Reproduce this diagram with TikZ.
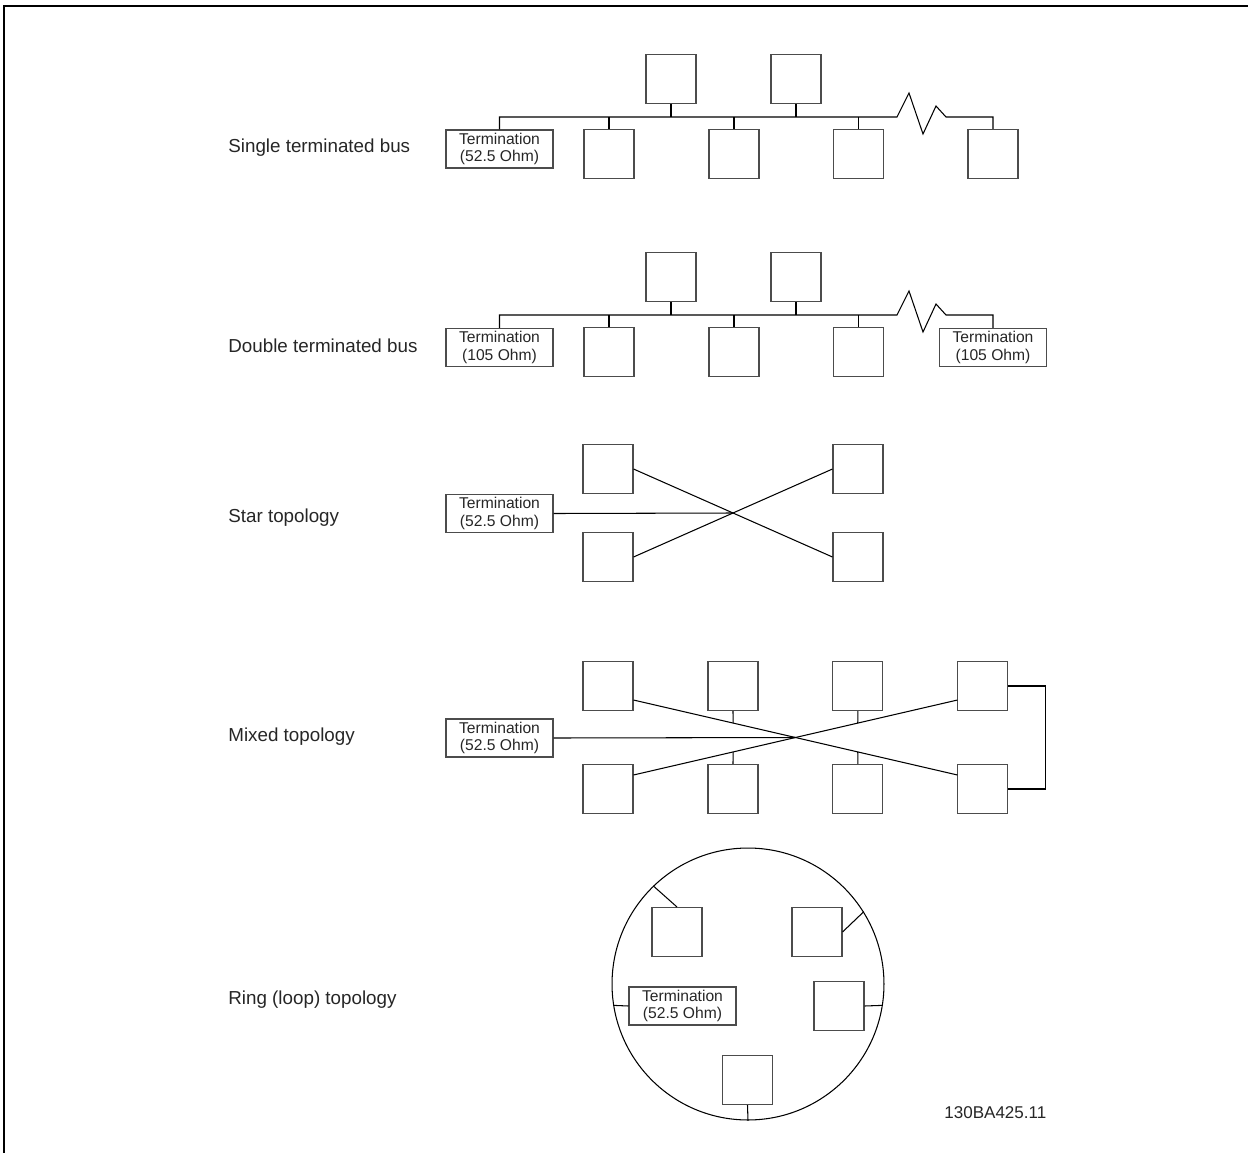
\documentclass[tikz,border=0pt]{standalone}
\usepackage{fontspec}
\setmainfont{Liberation Sans}
\usetikzlibrary{positioning,calc}

\begin{document}
\begin{tikzpicture}[x=0.02cm, y=-0.02cm, node distance=2.5cm]
    \tikzstyle{devnode} = [rectangle, minimum width=1cm, minimum height=0.98cm,
      inner sep=0pt, draw=black!70, line width=0.6pt]
    \tikzstyle{termnode} = [rectangle, minimum width=2.14cm, minimum height=0.76cm,
      inner sep=0pt, align=center, draw=black!70, line width=0.6pt,
      font=\fontsize{8.9}{9.8}\selectfont, text=black!85]
    \tikzstyle{labelnode} = [anchor=west, inner sep=0pt, text=black!85,
      font=\fontsize{10.7}{12.8}\selectfont]
    \tikzstyle{wire} = [line width=0.6pt]

    \useasboundingbox (0,0) rectangle (1248,1153);
    \draw [line width=1.1pt] (1248,6) -- (4,6) -- (4,1153);

    % single terminated bus
    \node (lab1) [labelnode] at (228,148) {Single terminated bus};
    \node (term1) [termnode] at (499.5,149) {Termination\\(52.5 Ohm)};
    \node (bus1a) [devnode] at (609,154) {};
    \node (bus1b) [devnode, right of=bus1a] {};
    \node (bus1c) [devnode, right of=bus1b] {};
    \node (bus1d) [devnode] at (993,154) {};
    \node (top1a) [devnode] at (671,79) {};
    \node (top1b) [devnode, right of=top1a] {};
    \coordinate (zig1) at (897,117);

    \draw [wire] (term1.north) |- (zig1) -- ++(12,-24) -- ++(14,41) -- ++(13,-28)
      -- ++(10,11) -| (bus1d.north);
    \foreach \n/\a in {bus1a/north, bus1b/north, bus1c/north, top1a/south, top1b/south}
      \draw [wire] (\n.\a) -- (\n.\a |- zig1);

    % double terminated bus
    \node (lab2) [labelnode] at (228,346) {Double terminated bus};
    \node (term2a) [termnode] at (499.5,347.5) {Termination\\(105 Ohm)};
    \node (bus2a) [devnode] at (609,352) {};
    \node (bus2b) [devnode, right of=bus2a] {};
    \node (bus2c) [devnode, right of=bus2b] {};
    \node (term2b) [termnode] at (993,347.5) {Termination\\(105 Ohm)};
    \node (top2a) [devnode] at (671,277) {};
    \node (top2b) [devnode, right of=top2a] {};
    \coordinate (zig2) at (897,315);

    \draw [wire] (term2a.north) |- (zig2) -- ++(12,-24) -- ++(14,41) -- ++(13,-28)
      -- ++(10,11) -| (term2b.north);
    \foreach \n/\a in {bus2a/north, bus2b/north, bus2c/north, top2a/south, top2b/south}
      \draw [wire] (\n.\a) -- (\n.\a |- zig2);

    % star
    \node (lab3) [labelnode] at (228,518) {Star topology};
    \node (term3) [termnode] at (499.5,513.5) {Termination\\(52.5 Ohm)};
    \node (star1) [devnode] at (608,469) {};
    \node (star2) [devnode] at (608,557) {};
    \node (star3) [devnode] at (858,469) {};
    \node (star4) [devnode] at (858,557) {};
    \coordinate (hub3) at ($(star1.east)!0.5!(star4.west)$);

    \draw [wire] (star1.east) -- (star4.west);
    \draw [wire] (star2.east) -- (star3.west);
    \draw [wire] (term3.east) -- (hub3);

    % mixed
    \node (lab4) [labelnode] at (228,737) {Mixed topology};
    \node (term4) [termnode] at (499.5,738) {Termination\\(52.5 Ohm)};
    \node (mix1) [devnode] at (608,686) {};
    \node (mix2) [devnode, right of=mix1] {};
    \node (mix3) [devnode, right of=mix2] {};
    \node (mix4) [devnode, right of=mix3] {};
    \node (low1) [devnode] at (608,789) {};
    \node (low2) [devnode, right of=low1] {};
    \node (low3) [devnode, right of=low2] {};
    \node (low4) [devnode, right of=low3] {};
    \coordinate (a4) at ($(mix1.south east)+(0,-11)$);
    \coordinate (b4) at ($(mix4.south west)+(0,-11)$);
    \coordinate (c4) at ($(low1.north east)+(0,11)$);
    \coordinate (d4) at ($(low4.north west)+(0,11)$);
    \coordinate (hub4) at ($(a4)!0.5!(d4)$);
    \coordinate (tap2u) at ($(a4)!0.3077!(d4)$);
    \coordinate (tap3u) at ($(c4)!0.6923!(b4)$);
    \coordinate (tap2l) at ($(c4)!0.3077!(b4)$);
    \coordinate (tap3l) at ($(a4)!0.6923!(d4)$);

    \draw [wire] (a4) -- (d4);
    \draw [wire] (c4) -- (b4);
    \draw [wire] (term4.east) -- (hub4);
    \draw [wire] (mix2.south) -- (tap2u);
    \draw [wire] (mix3.south) -- (tap3u);
    \draw [wire] (low2.north) -- (tap2l);
    \draw [wire] (low3.north) -- (tap3l);
    \draw [wire] (mix4.east) -- ++(37,0) |- (low4.east);

    % ring
    \node (lab5) [labelnode] at (228,1000) {Ring (loop) topology};
    \node (ring) [circle, draw, minimum size=5.44cm, inner sep=0pt, wire] at (748,984) {};
    \node (rbox1) [devnode] at (677,932) {};
    \node (rbox2) [devnode] at (817,932) {};
    \node (rbox3) [devnode] at (839,1006) {};
    \node (rbox4) [devnode] at (747.5,1080) {};
    \node (term5) [termnode] at (682.5,1006) {Termination\\(52.5 Ohm)};

    \draw [wire] (rbox1.north) -- (ring.134);
    \draw [wire] (rbox2.east) -- (ring.32);
    \draw [wire] (rbox3.east) -- (ring.-9);
    \draw [wire] (term5.west) -- (ring.189);
    \draw [wire] (rbox4.south) -- (ring.south);

    \node (code) [anchor=west, inner sep=0pt, text=black!85,
      font=\fontsize{9.7}{11}\selectfont] at (944,1113) {130BA425.11};
  \end{tikzpicture}
\end{document}
